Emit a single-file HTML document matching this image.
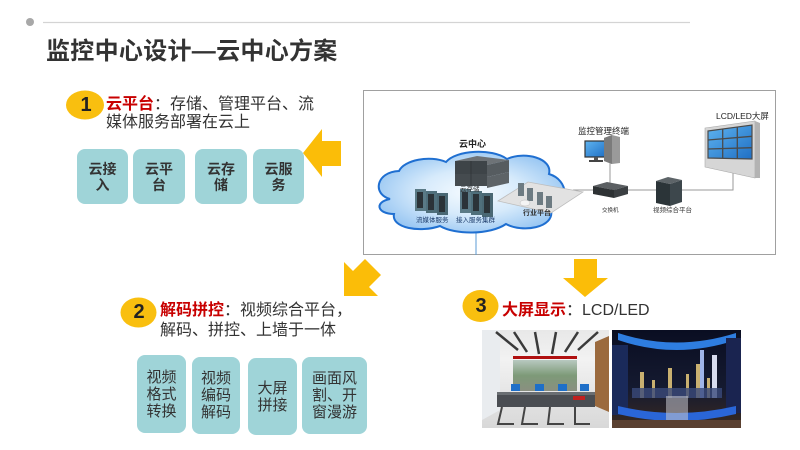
<!DOCTYPE html>
<html><head><meta charset="utf-8">
<style>
html,body{margin:0;padding:0;background:#fff;}
#p{position:relative;width:800px;height:450px;overflow:hidden;background:#fff;font-family:"Liberation Sans","Noto Sans CJK SC",sans-serif;color:#333;}
.a{position:absolute;white-space:nowrap;}
.box{position:absolute;background:#9fd4d8;border-radius:8px;display:flex;align-items:center;justify-content:center;text-align:center;color:#333;}
.r{color:#c80000;font-weight:bold;}
</style></head><body>
<div id="p">
<svg width="800" height="450" style="position:absolute;left:0;top:0" xmlns="http://www.w3.org/2000/svg">
<defs>
<radialGradient id="cg" cx="50%" cy="50%" r="62%">
<stop offset="0" stop-color="#f6fbff"/><stop offset="0.45" stop-color="#d6eafb"/><stop offset="1" stop-color="#88bdf0"/>
</radialGradient>
<linearGradient id="scr" x1="0" y1="0" x2="1" y2="1"><stop offset="0" stop-color="#5fb4f0"/><stop offset="1" stop-color="#1f6fc4"/></linearGradient>
<linearGradient id="p1" x1="0" y1="0" x2="0" y2="1"><stop offset="0" stop-color="#e8e8e8"/><stop offset="0.3" stop-color="#f2f2f2"/><stop offset="1" stop-color="#d8d8d8"/></linearGradient>
<linearGradient id="vw" x1="0" y1="0" x2="0" y2="1"><stop offset="0" stop-color="#b8c8c0"/><stop offset="0.5" stop-color="#7d9a78"/><stop offset="1" stop-color="#8a8f80"/></linearGradient>
<linearGradient id="p2" x1="0" y1="0" x2="0" y2="1"><stop offset="0" stop-color="#0a0e22"/><stop offset="0.6" stop-color="#151a30"/><stop offset="1" stop-color="#3a2a20"/></linearGradient>
</defs>
<!-- top line -->
<circle cx="30" cy="22" r="4" fill="#a8a8a8"/>
<line x1="43" y1="22.5" x2="690" y2="22.5" stroke="#d4d4d4" stroke-width="1.2"/>
<!-- badges -->
<ellipse cx="85" cy="105" rx="19" ry="14.5" fill="#f9bf0f"/>
<ellipse cx="138.5" cy="312.5" rx="18" ry="15" fill="#f9bf0f"/>
<ellipse cx="480.5" cy="306" rx="18" ry="16" fill="#f9bf0f"/>
<!-- arrows -->
<polygon points="303,153 322,129 322,141 341,141 341,166 322,166 322,177" fill="#fbbd08"/>
<polygon points="344,296 344,262 353,271 365,259 381,275 369,287 378,296" fill="#fbbd08"/>
<polygon points="574,259 597,259 597,278 608,278 585,297 563,278 574,278" fill="#fbbd08"/>
<!-- diagram frame -->
<rect x="363.5" y="90.5" width="412" height="164" fill="#fff" stroke="#a0a0a0" stroke-width="1"/>
<line x1="476" y1="228" x2="476" y2="255" stroke="#5b9bd5" stroke-width="1"/>
<!-- connection lines -->
<polyline points="573,190 733,190 733,172" fill="none" stroke="#9a9a9a" stroke-width="1"/>
<line x1="610" y1="160" x2="610" y2="185" stroke="#9a9a9a" stroke-width="1"/>
<!-- cloud -->
<path d="M390 199 C372 194,376 172,399 171 C404 160,430 155,446 162 C456 150,492 148,507 159 C524 151,553 158,549 174 C569 180,570 205,551 210 C555 228,522 233,506 224 C490 235,455 235,440 226 C420 233,391 228,394 214 C377 214,374 202,390 199 Z" fill="url(#cg)" stroke="#1f6fd1" stroke-width="2"/>
<!-- cloud storage -->
<polygon points="455,161 477,156 509,160 487,165" fill="#6e7377"/>
<rect x="455" y="161" width="32" height="13" fill="#3e4448"/>
<polygon points="487,165 509,160 509,172 487,177" fill="#565c60"/>
<rect x="455" y="174" width="32" height="12" fill="#454b4f"/>
<polygon points="487,177 509,172 509,183 487,188" fill="#5d6367"/>
<line x1="471" y1="161" x2="471" y2="186" stroke="#2a2e31" stroke-width="0.6"/>
<!-- streaming servers -->
<g>
<rect x="415" y="189" width="11" height="22" fill="#5a7a86"/><rect x="417" y="192" width="6" height="16" fill="#2b3338"/>
<rect x="426" y="191" width="11" height="22" fill="#4f6f7b"/><rect x="428" y="194" width="6" height="16" fill="#2b3338"/>
<rect x="437" y="193" width="11" height="22" fill="#4a6874"/><rect x="439" y="196" width="6" height="16" fill="#2b3338"/>
</g>
<g>
<rect x="460" y="189" width="11" height="24" fill="#5a7a86"/><rect x="462" y="192" width="6" height="17" fill="#2b3338"/>
<rect x="471" y="191" width="11" height="24" fill="#4f6f7b"/><rect x="473" y="194" width="6" height="17" fill="#2b3338"/>
<rect x="482" y="193" width="11" height="24" fill="#4a6874"/><rect x="484" y="196" width="6" height="17" fill="#2b3338"/>
</g>
<!-- platform -->
<polygon points="498,201 528,182 583,192 551,213" fill="#e2e2e2" stroke="#bdbdbd" stroke-width="0.8"/>
<rect x="518" y="183" width="6" height="13" fill="#6d7b82"/>
<rect x="527" y="188" width="6" height="13" fill="#6d7b82"/>
<rect x="537" y="192" width="6" height="13" fill="#6d7b82"/>
<rect x="546" y="196" width="6" height="12" fill="#6d7b82"/>
<ellipse cx="525" cy="203" rx="5" ry="3" fill="#f4f4f4" stroke="#bbb" stroke-width="0.5"/>
<!-- monitor terminal -->
<rect x="585" y="141" width="21" height="16" fill="url(#scr)" stroke="#333" stroke-width="1.2"/>
<rect x="594" y="157" width="4" height="3" fill="#555"/>
<rect x="589" y="160" width="14" height="2" fill="#444"/>
<polygon points="604,138 612,135 620,137 620,163 612,164 604,161" fill="#9a9a9a"/>
<polygon points="604,138 612,135 612,164 604,161" fill="#7b7b7b"/>
<!-- switch -->
<polygon points="593,186 607,182 628,186 614,190" fill="#5b5f62"/>
<polygon points="593,186 614,190 614,198 593,194" fill="#2e3234"/>
<polygon points="614,190 628,186 628,194 614,198" fill="#3b3f42"/>
<!-- video platform server -->
<polygon points="656,181 668,177 682,180 670,184" fill="#5d6468"/>
<polygon points="656,181 670,184 670,206 656,203" fill="#2b3438"/>
<polygon points="670,184 682,180 682,202 670,206" fill="#3d474c"/>
<!-- LCD wall -->
<polygon points="705,128 755,121 755,178 705,167" fill="#d6d6d6" stroke="#aaa" stroke-width="0.6"/>
<polygon points="755,121 760,123 760,178 755,178" fill="#b3b3b3"/>
<polygon points="708,131 752,125 752,159 708,158" fill="url(#scr)" stroke="#4a4a4a" stroke-width="1.2"/>
<line x1="722.7" y1="129" x2="722.7" y2="158.3" stroke="#4a4a4a" stroke-width="1.3"/>
<line x1="737.3" y1="127" x2="737.3" y2="158.7" stroke="#4a4a4a" stroke-width="1.3"/>
<line x1="708" y1="140" x2="752" y2="136.3" stroke="#4a4a4a" stroke-width="1.3"/>
<line x1="708" y1="149" x2="752" y2="147.7" stroke="#4a4a4a" stroke-width="1.3"/>
<!-- diagram labels -->
<g font-family="Liberation Sans,Noto Sans CJK SC,sans-serif" fill="#222">
<text x="459" y="147" font-size="9" font-weight="bold">云中心</text>
<text x="460" y="191" font-size="6.5" fill="#333">云存储</text>
<text x="416" y="222" font-size="6.5" fill="#1a3a6a">流媒体服务</text>
<text x="456" y="222" font-size="6.5" fill="#1a3a6a">接入服务集群</text>
<text x="523" y="215" font-size="7" font-weight="bold" fill="#333">行业平台</text>
<text x="578" y="134" font-size="8.5">监控管理终端</text>
<text x="602" y="212" font-size="5.5" fill="#333">交换机</text>
<text x="653" y="212" font-size="6.5" fill="#333">视频综合平台</text>
<text x="716" y="119" font-size="8.5">LCD/LED大屏</text>
</g>
<!-- photo 1 -->
<rect x="482" y="330" width="127" height="98" fill="url(#p1)"/>
<polygon points="482,330 500,330 500,410 482,420" fill="#e9ecef"/>
<polygon points="595,342 609,336 609,412 595,406" fill="#9b6a3e"/>
<g stroke="#3a3a3a" stroke-width="2.5">
<line x1="496" y1="332" x2="518" y2="350"/>
<line x1="514" y1="332" x2="527" y2="352"/>
<line x1="535" y1="332" x2="539" y2="354"/>
<line x1="556" y1="332" x2="552" y2="354"/>
<line x1="578" y1="332" x2="565" y2="352"/>
<line x1="598" y1="332" x2="578" y2="350"/>
</g>
<rect x="513" y="356" width="64" height="3" fill="#b01010"/>
<rect x="513" y="360" width="64" height="31" fill="url(#vw)"/>
<g fill="#1e6fc8"><rect x="511" y="384" width="9" height="7"/><rect x="535" y="384" width="9" height="7"/><rect x="558" y="384" width="9" height="7"/><rect x="580" y="384" width="9" height="7"/></g>
<rect x="497" y="392" width="98" height="15" fill="#4a4d52"/>
<rect x="497" y="392" width="98" height="3" fill="#6a6e72"/>
<rect x="573" y="396" width="12" height="4" fill="#c02020"/>
<g stroke="#444" stroke-width="2" fill="none">
<path d="M502 407 L498 424 L514 424"/><path d="M525 407 L522 424 L538 424"/><path d="M550 407 L548 424 L564 424"/><path d="M575 407 L575 424 L590 424"/>
</g>
<!-- photo 2 -->
<rect x="612" y="330" width="129" height="98" fill="url(#p2)"/>
<path d="M618 333 Q676 352 736 333 L736 340 Q676 360 618 340 Z" fill="#2e7de0"/>
<rect x="612" y="345" width="16" height="70" fill="#1a2a5a"/>
<rect x="726" y="338" width="15" height="75" fill="#1a2450"/>
<g fill="#c9b070">
<rect x="640" y="372" width="4" height="26"/><rect x="652" y="380" width="3" height="18"/><rect x="668" y="368" width="4" height="30"/>
<rect x="686" y="374" width="3" height="24"/><rect x="696" y="364" width="4" height="34"/><rect x="707" y="378" width="3" height="20"/>
</g>
<rect x="712" y="355" width="5" height="43" fill="#d8dcef"/>
<rect x="700" y="350" width="4" height="48" fill="#9fb4e8"/>
<rect x="632" y="388" width="90" height="10" fill="#3a4a7a" opacity="0.8"/>
<path d="M618 406 Q676 420 736 406 L736 414 Q676 428 618 414 Z" fill="#2a66d8"/>
<rect x="666" y="396" width="22" height="24" fill="#c8c8d0" opacity="0.55"/>
<rect x="612" y="420" width="129" height="8" fill="#5a4030"/>
</svg>

<div class="a" style="left:46px;top:40px;font-size:24px;line-height:24px;font-weight:bold;color:#333;letter-spacing:0.3px;">监控中心设计—云中心方案</div>

<div class="a" style="left:78px;top:94px;width:16px;text-align:center;font-size:20px;line-height:22px;font-weight:bold;color:#222;">1</div>
<div class="a" style="left:106px;top:96px;font-size:16px;line-height:18px;color:#333;"><span class="r">云平台</span>：存储、管理平台、流<br>媒体服务部署在云上</div>

<div class="box" style="left:77px;top:149px;width:51px;height:55px;font-size:14px;line-height:16px;font-weight:bold;">云接<br>入</div>
<div class="box" style="left:133px;top:149px;width:52px;height:55px;font-size:14px;line-height:16px;font-weight:bold;">云平<br>台</div>
<div class="box" style="left:195px;top:149px;width:52px;height:55px;font-size:14px;line-height:16px;font-weight:bold;">云存<br>储</div>
<div class="box" style="left:253px;top:149px;width:51px;height:55px;font-size:14px;line-height:16px;font-weight:bold;">云服<br>务</div>

<div class="a" style="left:131px;top:301px;width:16px;text-align:center;font-size:20px;line-height:22px;font-weight:bold;color:#222;">2</div>
<div class="a" style="left:160px;top:301px;font-size:16px;line-height:20px;color:#333;"><span class="r">解码拼控</span>：视频综合平台，<br>解码、拼控、上墙于一体</div>

<div class="box" style="left:137px;top:355px;width:49px;height:78px;font-size:15px;line-height:17px;">视频<br>格式<br>转换</div>
<div class="box" style="left:192px;top:357px;width:48px;height:77px;font-size:15px;line-height:17px;">视频<br>编码<br>解码</div>
<div class="box" style="left:248px;top:358px;width:49px;height:77px;font-size:15px;line-height:17px;">大屏<br>拼接</div>
<div class="box" style="left:302px;top:357px;width:65px;height:77px;font-size:15px;line-height:17px;">画面风<br>割、开<br>窗漫游</div>

<div class="a" style="left:473px;top:295px;width:16px;text-align:center;font-size:20px;line-height:22px;font-weight:bold;color:#222;">3</div>
<div class="a" style="left:502px;top:302px;font-size:16px;line-height:18px;color:#333;"><span class="r">大屏显示</span>：LCD/LED</div>
</div>
</body></html>
